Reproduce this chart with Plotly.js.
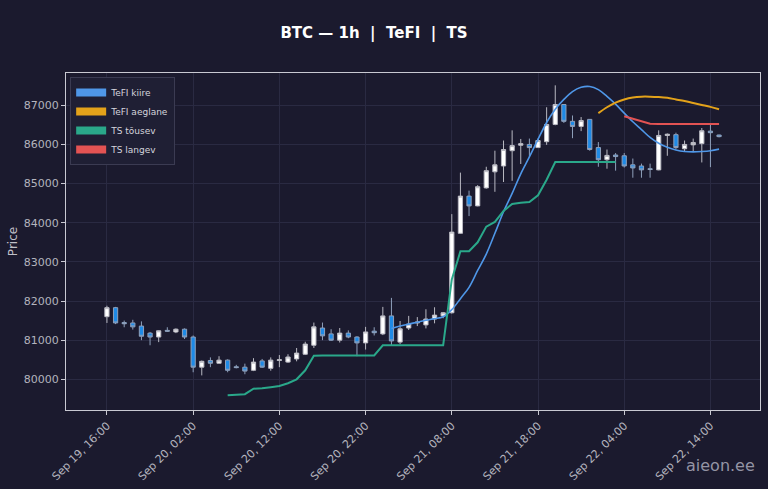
<!DOCTYPE html>
<html>
<head>
<meta charset="utf-8">
<script src="https://cdn.plot.ly/plotly-3.0.1.min.js"></script>
<style>
  html, body { margin: 0; padding: 0; background: #1b1a2e; }
  #myDiv { width: 768px; height: 489px; }
</style>
</head>
<body>
<div id="myDiv"></div>
<script>
graphDiv = 'myDiv'

// hourly candles, first one at Sep 19 16:00
var startTime = Date.UTC(2025, 8, 19, 16)
var candleCount = 72

var opens = [81600, 81830, 81450, 81440, 81360, 81180, 81080, 81250, 81210, 81280,
  81080, 80310, 80480, 80410, 80490, 80320, 80310, 80230, 80470, 80280,
  80480, 80440, 80520, 80640, 80870, 81310, 81160, 81000, 81180, 81080,
  80930, 81230, 81160, 81620, 80950, 81310, 81440, 81390, 81540, 81620,
  81700, 83730, 84680, 84430, 84890, 85300, 85450, 85840, 85980, 86000,
  85920, 86070, 86510, 87020, 86590, 86460, 86640, 85920, 85610, 85730,
  85710, 85480, 85450, 85380, 85350, 86230, 86250, 85890, 85990, 86020,
  86340, 86240]
var highs = [81880, 81850, 81500, 81520, 81480, 81210, 81250, 81330, 81300, 81300,
  81120, 80480, 80560, 80590, 80510, 80370, 80400, 80540, 80520, 80560,
  80620, 80640, 80800, 80960, 81450, 81450, 81280, 81310, 81250, 81100,
  81340, 81330, 81850, 82080, 81490, 81620, 81590, 81790, 81840, 81720,
  84220, 85280, 84820, 84960, 85430, 85840, 86100, 86360, 86140, 86150,
  86150, 86950, 87510, 87030, 86740, 86700, 86650, 86060, 85870, 85780,
  85780, 85640, 85510, 85510, 86360, 86280, 86300, 86100, 86150, 86420,
  86540, 86250]
var lows = [81440, 81410, 81330, 81270, 81000, 80870, 80950, 81210, 81180, 81030,
  80180, 80100, 80310, 80400, 80180, 80280, 80130, 80210, 80290, 80220,
  80310, 80420, 80460, 80620, 80800, 81000, 80980, 80940, 81050, 80590,
  80760, 81120, 81130, 80870, 80900, 81260, 81360, 81300, 81430, 81560,
  81680, 83720, 84170, 84420, 84870, 84790, 85040, 85070, 85500, 85690,
  85920, 85990, 86490, 86550, 86160, 86340, 85840, 85430, 85380, 85330,
  85410, 85150, 85150, 85150, 85340, 85710, 85880, 85810, 85810, 85540,
  85420, 86180]
var closes = [81830, 81440, 81420, 81340, 81100, 81080, 81240, 81230, 81280, 81080,
  80310, 80460, 80410, 80490, 80230, 80300, 80210, 80440, 80310, 80490,
  80500, 80570, 80670, 80900, 81340, 81110, 81000, 81180, 81080, 80930,
  81210, 81190, 81620, 80980, 81290, 81410, 81460, 81540, 81640, 81700,
  83760, 84680, 84430, 84920, 85330, 85480, 85870, 85970, 86020, 85920,
  86100, 86510, 87020, 86590, 86460, 86610, 85870, 85610, 85720, 85690,
  85450, 85400, 85350, 85360, 86230, 86260, 85920, 86000, 86050, 86350,
  86300, 86200]

// indicator lines, null where the line is not drawn
var tefiFast = [null, null, null, null, null, null, null, null, null, null,
  null, null, null, null, null, null, null, null, null, null,
  null, null, null, null, null, null, null, null, null, null,
  null, null, null, 81300, 81360, 81410, 81460, 81510, 81550, 81600,
  81780, 82060, 82350, 82780, 83200, 83730, 84280, 84750, 85250, 85680,
  86130, 86560, 86900, 87150, 87350, 87460, 87480, 87400, 87230, 87030,
  86800, 86580, 86380, 86180, 86030, 85930, 85860, 85820, 85810, 85820,
  85840, 85880]
var tefiSlow = [null, null, null, null, null, null, null, null, null, null,
  null, null, null, null, null, null, null, null, null, null,
  null, null, null, null, null, null, null, null, null, null,
  null, null, null, null, null, null, null, null, null, null,
  null, null, null, null, null, null, null, null, null, null,
  null, null, null, null, null, null, null, 86800, 86950, 87070,
  87150, 87200, 87220, 87220, 87210, 87190, 87150, 87110, 87060, 87010,
  86960, 86900]
var tsUp = [null, null, null, null, null, null, null, null, null, null,
  null, null, null, null, 79590, 79600, 79620, 79760, 79770, 79800,
  79830, 79900, 80000, 80230, 80600, 80610, 80610, 80610, 80610, 80610,
  80610, 80610, 80870, 80870, 80870, 80870, 80870, 80870, 80870, 80870,
  82550, 83270, 83270, 83500, 83900, 84020, 84300, 84480, 84510, 84530,
  84700, 85100, 85550, 85550, 85550, 85550, 85550, 85550, 85550, 85550,
  null, null, null, null, null, null, null, null, null, null,
  null, null]
var tsDown = [null, null, null, null, null, null, null, null, null, null,
  null, null, null, null, null, null, null, null, null, null,
  null, null, null, null, null, null, null, null, null, null,
  null, null, null, null, null, null, null, null, null, null,
  null, null, null, null, null, null, null, null, null, null,
  null, null, null, null, null, null, null, null, null, null,
  86720, 86660, 86600, 86530, 86520, 86520, 86520, 86520, 86520, 86520,
  86520, 86520]

var seriesNames = ['TeFI kiire', 'TeFI aeglane', 'TS tõusev', 'TS langev']
var seriesColors = ['#4f97e8', '#e3a21a', '#2aa88a', '#e35353']
var yTicks = [80000, 81000, 82000, 83000, 84000, 85000, 86000, 87000]

var times = []
for (let i = 0; i < candleCount; i++) {
  times.push(new Date(startTime + i * 3600000).toISOString().slice(0, 16).replace('T', ' '))
}

var candles = {
  type: 'candlestick',
  x: times, open: opens, high: highs, low: lows, close: closes,
  increasing: { line: { color: '#b9b9c2', width: 1 }, fillcolor: '#ffffff' },
  decreasing: { line: { color: '#8fa0bb', width: 1 }, fillcolor: '#1e8ae6' },
  whiskerwidth: 0,
  showlegend: false,
  hoverinfo: 'skip'
}

function lineTrace(values, k, width, shape) {
  return {
    type: 'scatter', mode: 'lines', x: times, y: values,
    line: { color: seriesColors[k], width: width, shape: shape },
    showlegend: false, hoverinfo: 'skip', connectgaps: false
  }
}

var data = [candles,
  lineTrace(tefiFast, 0, 1.6, 'spline'),
  lineTrace(tefiSlow, 1, 2, 'spline'),
  lineTrace(tsUp, 2, 2, 'linear'),
  lineTrace(tsDown, 3, 2, 'linear')]

// legend entries drawn as thick swatches
for (let k = 0; k < seriesNames.length; k++) {
  data.push({
    type: 'scatter', mode: 'lines', x: [null], y: [null],
    name: seriesNames[k], line: { color: seriesColors[k], width: 8 },
    hoverinfo: 'skip'
  })
}

var gridColor = '#2a2a42'
var axisColor = '#c9c9d2'
var tickFont = { family: 'DejaVu Sans', size: 11, color: '#b4b4be' }

var layout = {
  width: 768, height: 489,
  paper_bgcolor: '#1b1a2e', plot_bgcolor: '#1b1a2e',
  margin: { l: 66, r: 8, t: 73, b: 79 },
  font: { family: 'DejaVu Sans', color: '#c8c8d0' },
  title: {
    text: '<b>BTC — 1h  |  TeFI  |  TS</b>',
    font: { family: 'DejaVu Sans', size: 15, color: '#ffffff' },
    x: 0.487, xanchor: 'center', xref: 'container',
    y: 0.933, yanchor: 'middle', yref: 'container'
  },
  xaxis: {
    type: 'date',
    range: ['2025-09-19 11:15', '2025-09-22 19:45'],
    tick0: '2025-09-19 16:00', dtick: 36000000,
    tickformat: '%b %d, %H:%M', tickangle: -45,
    tickfont: tickFont,
    ticks: 'outside', ticklen: 4, tickcolor: axisColor,
    showline: true, linecolor: axisColor, linewidth: 1, mirror: true,
    showgrid: true, gridcolor: gridColor, gridwidth: 1,
    zeroline: false,
    rangeslider: { visible: false }
  },
  yaxis: {
    range: [79216, 87825],
    tickvals: yTicks, tickformat: 'd',
    tickfont: tickFont,
    ticks: 'outside', ticklen: 4, tickcolor: axisColor,
    showline: true, linecolor: axisColor, linewidth: 1, mirror: true,
    showgrid: true, gridcolor: gridColor, gridwidth: 1,
    zeroline: false,
    title: { text: 'Price', font: { family: 'DejaVu Sans', size: 12, color: '#c0c0c8' }, standoff: 3 }
  },
  legend: {
    x: 0.006, y: 0.988, xanchor: 'left', yanchor: 'top',
    bgcolor: '#1f1f34', bordercolor: '#3b3b52', borderwidth: 1,
    font: { family: 'DejaVu Sans', size: 9, color: '#d4d4dc' },
    itemwidth: 30, tracegroupgap: 0
  },
  annotations: [{
    text: 'aieon.ee', xref: 'paper', yref: 'paper',
    x: 0.9957, y: -0.166, xanchor: 'right', yanchor: 'middle',
    showarrow: false,
    font: { family: 'DejaVu Sans', size: 16, color: '#9494a4' }
  }]
}

Plotly.newPlot(graphDiv, data, layout, { displayModeBar: false, staticPlot: true });
</script>
</body>
</html>
